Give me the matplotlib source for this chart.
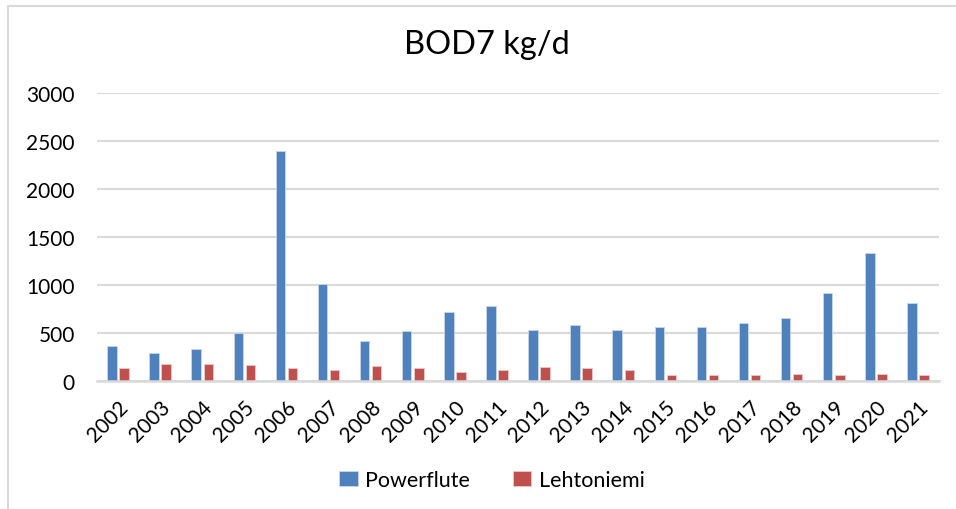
"""BOD7 kg/d per year: Powerflute vs Lehtoniemi, Excel-style clustered columns."""
import matplotlib
matplotlib.use("Agg")
import matplotlib.pyplot as plt
from matplotlib.patches import Rectangle
import numpy as np

BLUE, RED = "#4f81bd", "#c0504d"
GRID, INK = "#d9d9d9", "#000000"

years = [str(y) for y in range(2002, 2022)]
powerflute = [367, 293, 335, 496, 2400, 1011, 419, 520, 718, 783,
              527, 586, 527, 558, 562, 603, 655, 915, 1337, 811]
lehtoniemi = [139, 174, 174, 164, 139, 114, 152, 131, 97, 114,
              149, 131, 117, 66, 58, 66, 69, 66, 76, 66]
yticks = [0, 500, 1000, 1500, 2000, 2500, 3000]

plt.rcParams["font.family"] = ["Lato", "DejaVu Sans"]

fig = plt.figure(figsize=(9.56, 5.10), dpi=100)
fig.patch.set_facecolor("white")
# chart-area frame, cropped at right/bottom like the source screenshot
fig.patches.append(Rectangle((8 / 956, -0.05), 1.2, 1 - 7 / 510 + 0.05,
                             transform=fig.transFigure, fill=False,
                             edgecolor="#d9d9d9", linewidth=1.5))

ax = fig.add_axes([97 / 956, 1 - 382 / 510, (939 - 97) / 956, (382 - 94) / 510])
x = np.arange(len(years))
w, off = 0.225, 0.143
ax.bar(x - off, powerflute, w, color=BLUE, edgecolor="#c9d7ea", linewidth=0.6,
       label="Powerflute", zorder=3)
ax.bar(x + off, lehtoniemi, w, color=RED, edgecolor="#ecc9c8", linewidth=0.6,
       label="Lehtoniemi", zorder=3)

ax.set_xlim(-0.5, len(years) - 0.5)
ax.set_ylim(0, 3000)
ax.set_yticks(yticks)
ax.set_yticklabels([str(v) for v in yticks])
ax.grid(True, axis="y", color=GRID, linewidth=1.5, zorder=0)
for s in ("top", "right", "left"):
    ax.spines[s].set_visible(False)
ax.spines["bottom"].set_color(GRID)
ax.spines["bottom"].set_linewidth(1.8)
ax.spines["bottom"].set_zorder(4)
ax.tick_params(axis="y", length=0, pad=16, labelsize=15, colors=INK)
ax.tick_params(axis="x", length=0, pad=11, labelsize=15, colors=INK)
ax.set_xticks(x)
ax.set_xticklabels(years, rotation=45, ha="right", va="top",
                   rotation_mode="anchor")

fig.text(487 / 956, 1 - 45 / 510, "BOD7 kg/d", ha="center", va="center",
         fontsize=23.5, color=INK)
fig.legend(loc="center", bbox_to_anchor=(492 / 956, 1 - 481 / 510), ncol=2,
           frameon=False, fontsize=15.5, handlelength=0.85, handleheight=0.75,
           handletextpad=0.35, columnspacing=2.0)

fig.savefig("out.png", dpi=100, facecolor="white")
